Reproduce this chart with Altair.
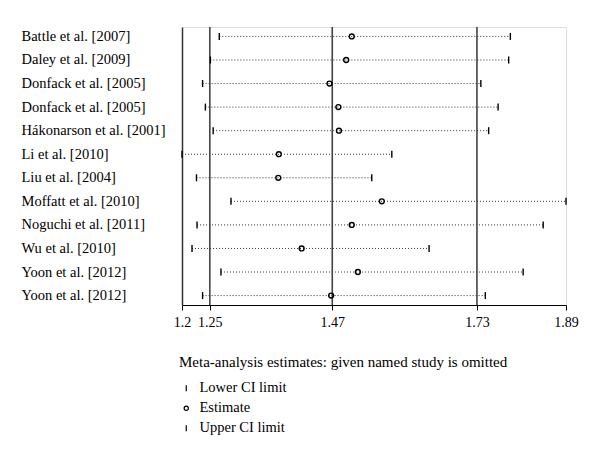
import json
import altair as alt
import pandas as pd

studies = [
    "Battle et al. [2007]",
    "Daley et al. [2009]",
    "Donfack et al. [2005]",
    "Donfack et al. [2005]",
    "Hákonarson et al. [2001]",
    "Li et al. [2010]",
    "Liu et al. [2004]",
    "Moffatt et al. [2010]",
    "Noguchi et al. [2011]",
    "Wu et al. [2010]",
    "Yoon et al. [2012]",
    "Yoon et al. [2012]",
]
lower = [1.267, 1.251, 1.237, 1.242, 1.256, 1.200, 1.226, 1.288, 1.227, 1.218, 1.270, 1.237]
estimate = [1.505, 1.495, 1.465, 1.481, 1.482, 1.374, 1.373, 1.559, 1.505, 1.415, 1.516, 1.468]
upper = [1.790, 1.787, 1.737, 1.768, 1.751, 1.577, 1.541, 1.890, 1.849, 1.644, 1.813, 1.745]
ref_lines = [1.25, 1.47, 1.73]
x_ticks = [1.2, 1.25, 1.47, 1.73, 1.89]
types = ["Lower CI limit", "Estimate", "Upper CI limit"]

FONT = "Liberation Serif"
rows = list(range(len(studies)))
wide = pd.DataFrame({"row": rows, "lower": lower, "est": estimate, "upper": upper})
long = pd.concat([
    pd.DataFrame({"row": rows, "value": lower, "type": types[0]}),
    pd.DataFrame({"row": rows, "value": estimate, "type": types[1]}),
    pd.DataFrame({"row": rows, "value": upper, "type": types[2]}),
])
refs = pd.DataFrame({"v": ref_lines})

label_expr = json.dumps(studies) + "[datum.value]"
xscale = alt.Scale(domain=[1.2, 1.89], nice=False, zero=False)
yscale = alt.Scale(type="point", padding=0.4)

yaxis = alt.Axis(
    title=None, ticks=False, tickSize=0, labelExpr=label_expr, labelAlign="left",
    labelPadding=161, labelFont=FONT, labelFontSize=14.5, labelColor="black",
    domainColor="#333333", domainWidth=1.5, grid=False, labelLimit=300,
)
xaxis = alt.Axis(
    title=None, values=x_ticks, format=".3~f", labelOverlap=False, labelFlush=False,
    labelFont=FONT, labelFontSize=14, labelColor="black", labelPadding=5,
    tickSize=5, tickColor="black", domainColor="black", grid=False,
)

vlines = alt.Chart(refs).mark_rule(color="#444444", strokeWidth=1.6).encode(
    x=alt.X("v:Q", scale=xscale, axis=xaxis)
)

dots = alt.Chart(wide).mark_rule(strokeDash=[1, 2], color="#333333", strokeWidth=1).encode(
    x=alt.X("lower:Q", scale=xscale, axis=xaxis),
    x2="upper:Q",
    y=alt.Y("row:O", scale=yscale, axis=yaxis),
)

tick_path = "M0,-1L0,1"
circle_path = "M0.7,0A0.7,0.7 0 1,1 -0.7,0A0.7,0.7 0 1,1 0.7,0Z"

marks = alt.Chart(long).mark_point(filled=False, color="black", strokeWidth=1.4, size=49, opacity=1).encode(
    x=alt.X("value:Q", scale=xscale, axis=xaxis),
    y=alt.Y("row:O", scale=yscale, axis=yaxis),
    shape=alt.Shape(
        "type:N",
        scale=alt.Scale(domain=types, range=[tick_path, circle_path, tick_path]),
        legend=alt.Legend(
            title="Meta-analysis estimates: given named study is omitted",
            orient="none", legendX=-3, legendY=328, padding=0,
            titleFont=FONT, titleFontSize=15, titleFontWeight="normal", titleColor="black",
            titlePadding=11, titleLimit=500,
            labelFont=FONT, labelFontSize=14.5, labelColor="black", labelOffset=6,
            symbolSize=36, symbolOffset=0, symbolStrokeColor="black",
            symbolFillColor="transparent", symbolStrokeWidth=1.2, rowPadding=5,
        ),
    ),
)

chart = alt.layer(vlines, dots, marks).properties(
    width=384, height=278,
    autosize=alt.AutoSizeParams(type="none"),
    padding={"left": 174, "top": 19, "right": 20, "bottom": 140},
).configure_view(stroke=None).configure(background="white")

chart.save("out.html", embed_options={"renderer": "svg", "actions": False})
